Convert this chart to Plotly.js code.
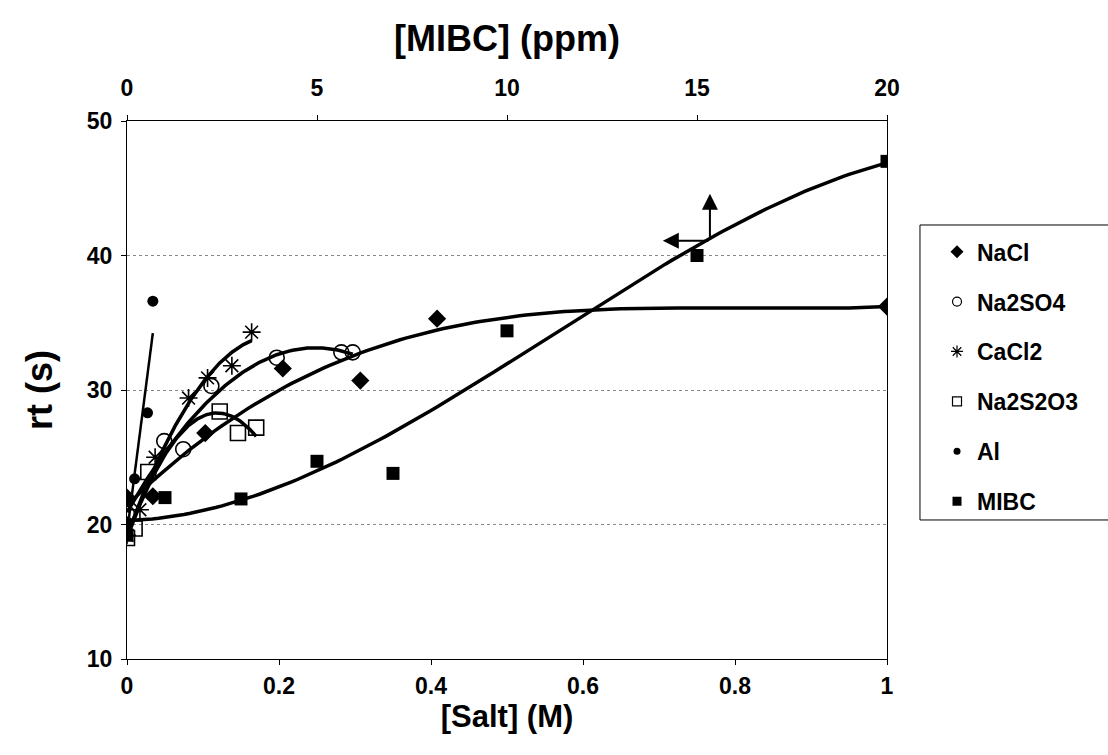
<!DOCTYPE html>
<html>
<head>
<meta charset="utf-8">
<script src="https://cdn.plot.ly/plotly-3.0.1.min.js"></script>
<style>body{margin:0;background:#fff}#chart{width:1108px;height:755px}</style>
</head>
<body>
<div id="chart"></div>
<script>
// ---- data ----
const naclX   = [0, 0.034, 0.103, 0.205, 0.307, 0.408, 1.0];
const naclY   = [22.0, 22.1, 26.8, 31.6, 30.7, 35.3, 36.2];
const na2so4X = [0, 0.049, 0.074, 0.111, 0.197, 0.282, 0.297];
const na2so4Y = [20.8, 26.2, 25.6, 30.3, 32.4, 32.8, 32.8];
const cacl2X  = [0, 0.017, 0.037, 0.081, 0.106, 0.138, 0.164];
const cacl2Y  = [19.2, 21.1, 25.0, 29.4, 30.9, 31.8, 34.3];
const na2s2o3X = [0, 0.010, 0.028, 0.122, 0.146, 0.170];
const na2s2o3Y = [19.0, 19.7, 23.9, 28.4, 26.8, 27.2];
const alX     = [0, 0.010, 0.027, 0.034];
const alY     = [20.2, 23.4, 28.3, 36.6];
const mibcX   = [0, 1, 3, 5, 7, 10, 15, 20];   // ppm (top axis)
const mibcY   = [19.2, 22.0, 21.9, 24.7, 23.8, 34.4, 40.0, 47.0];
const seriesNames = ['NaCl', 'Na2SO4', 'CaCl2', 'Na2S2O3', 'Al', 'MIBC'];
const fitOrders   = [3, 2, 2, 2, 1, 3];
const xTickVals  = [0, 0.2, 0.4, 0.6, 0.8, 1];
const xTickText  = ['0', '0.2', '0.4', '0.6', '0.8', '1'];
const x2TickVals = [0, 5, 10, 15, 20];
const yTickVals  = [10, 20, 30, 40, 50];
// arrow annotation (top-axis ppm, rt): corner, up-tip y, left-tip x
const arrowCorner = [15.34, 41.1];
const arrowUpTipY = 44.6;
const arrowLeftTipX = 14.1;

// ---- least-squares polynomial trendline (as the spreadsheet did) ----
function polyfit(xs, ys, order) {
  const n = order + 1;
  const A = [], b = [];
  for (let i = 0; i < n; i++) {
    A.push(new Array(n).fill(0)); b.push(0);
    for (let j = 0; j < n; j++)
      for (let k = 0; k < xs.length; k++) A[i][j] += Math.pow(xs[k], i + j);
    for (let k = 0; k < xs.length; k++) b[i] += ys[k] * Math.pow(xs[k], i);
  }
  for (let c = 0; c < n; c++) {
    let p = c;
    for (let r = c + 1; r < n; r++) if (Math.abs(A[r][c]) > Math.abs(A[p][c])) p = r;
    [A[c], A[p]] = [A[p], A[c]]; [b[c], b[p]] = [b[p], b[c]];
    for (let r = c + 1; r < n; r++) {
      const f = A[r][c] / A[c][c];
      for (let j = c; j < n; j++) A[r][j] -= f * A[c][j];
      b[r] -= f * b[c];
    }
  }
  const coef = new Array(n).fill(0);
  for (let r = n - 1; r >= 0; r--) {
    let s = b[r];
    for (let j = r + 1; j < n; j++) s -= A[r][j] * coef[j];
    coef[r] = s / A[r][r];
  }
  return coef;
}
function trend(xs, ys, order) {
  const c = polyfit(xs, ys, order);
  const lo = Math.min(...xs), hi = Math.max(...xs);
  const tx = [], ty = [];
  for (let i = 0; i <= 120; i++) {
    const x = lo + (hi - lo) * i / 120;
    let y = 0;
    for (let k = 0; k < c.length; k++) y += c[k] * Math.pow(x, k);
    tx.push(x); ty.push(y);
  }
  return {tx, ty};
}

const FONT = 'Liberation Sans, Arial, sans-serif';
const sets = [
  {x: naclX, y: naclY, sym: 'diamond', size: 14, lw: 0, xa: 'x', ls: 10},
  {x: na2so4X, y: na2so4Y, sym: 'circle-open', size: 15, lw: 1.6, xa: 'x', ls: 9},
  {x: cacl2X, y: cacl2Y, sym: 'asterisk-open', size: 15, lw: 1.6, xa: 'x', ls: 10},
  {x: na2s2o3X, y: na2s2o3Y, sym: 'square-open', size: 15, lw: 1.6, xa: 'x', ls: 9},
  {x: alX, y: alY, sym: 'circle', size: 11, lw: 0, xa: 'x', ls: 7},
  {x: mibcX, y: mibcY, sym: 'square', size: 13, lw: 0, xa: 'x2', ls: 9}
];
const traces = [];
sets.forEach((s, i) => {
  const t = trend(s.x, s.y, fitOrders[i]);
  traces.push({
    x: t.tx, y: t.ty, xaxis: s.xa, yaxis: 'y', mode: 'lines',
    line: {color: '#000', width: i === 4 ? 2.5 : 3.5, shape: 'linear'},
    showlegend: false, hoverinfo: 'skip'
  });
});
sets.forEach((s, i) => {
  traces.push({
    x: s.x, y: s.y, xaxis: s.xa, yaxis: 'y', mode: 'markers', name: seriesNames[i],
    showlegend: false,
    marker: {symbol: s.sym, size: s.size, color: '#000', line: {color: '#000', width: s.lw}}
  });
});
// legend entries (smaller symbols, as in the reference legend)
sets.forEach((s, i) => {
  traces.push({
    x: [null], y: [null], xaxis: 'x', yaxis: 'y', mode: 'markers', name: seriesNames[i],
    legendgroup: 'g' + i, showlegend: true,
    marker: {symbol: s.sym, size: s.ls, color: '#000', line: {color: '#000', width: s.lw ? 1.2 : 0}}
  });
});

const tickFont = {family: FONT, size: 23, weight: 'bold', color: '#000'};
const layout = {
  width: 1108, height: 755,
  margin: {l: 127, r: 221, t: 121, b: 96},
  paper_bgcolor: '#fff', plot_bgcolor: '#fff',
  font: {family: FONT, size: 18, color: '#000', weight: 'bold'},
  showlegend: true,
  legend: {
    x: 1.0658, y: 0.797, xanchor: 'left', yanchor: 'top',
    borderwidth: 0, bgcolor: 'rgba(0,0,0,0)',
    font: {family: FONT, size: 23, color: '#000', weight: 'bold'},
    traceorder: 'grouped', tracegroupgap: 17, itemwidth: 30
  },
  shapes: [
    {type: 'rect', xref: 'paper', yref: 'paper', x0: 1.0434, x1: 1.4, y0: 0.2584, y1: 0.8067,
     line: {color: '#000', width: 1}, fillcolor: 'rgba(0,0,0,0)', layer: 'below'}
  ],
  xaxis: {
    range: [0, 1], tickvals: xTickVals, ticktext: xTickText,
    showline: true, linecolor: '#000', linewidth: 1, mirror: false,
    ticks: 'outside', ticklen: 5, tickcolor: '#000', showgrid: false, zeroline: false,
    tickfont: tickFont, ticklabelstandoff: 1,
    title: {text: '[Salt] (M)', font: {family: FONT, size: 31, weight: 'bold'}, standoff: 3}
  },
  xaxis2: {
    range: [0, 20], overlaying: 'x', side: 'top', anchor: 'y', tickvals: x2TickVals,
    showline: true, linecolor: '#000', linewidth: 1,
    ticks: 'outside', ticklen: 5, tickcolor: '#000', showgrid: false, zeroline: false,
    tickfont: tickFont, ticklabelstandoff: 10,
    title: {text: '[MIBC] (ppm)', font: {family: FONT, size: 36, weight: 'bold'}, standoff: 12}
  },
  yaxis: {
    range: [10, 50], tickvals: yTickVals,
    showline: true, linecolor: '#000', linewidth: 1, mirror: true,
    ticks: 'outside', ticklen: 5, tickcolor: '#000',
    showgrid: true, gridcolor: '#888', griddash: 'dot', gridwidth: 1, zeroline: false,
    tickfont: tickFont, ticklabelstandoff: 4,
    title: {text: 'rt (s)', font: {family: FONT, size: 36, weight: 'bold'}, standoff: 23}
  },
  annotations: [
    {xref: 'x2', yref: 'y', axref: 'x2', ayref: 'y', x: arrowCorner[0], y: arrowUpTipY,
     ax: arrowCorner[0], ay: arrowCorner[1],
     showarrow: true, arrowhead: 2, arrowsize: 1.6, arrowwidth: 2, arrowcolor: '#000', text: ''},
    {xref: 'x2', yref: 'y', axref: 'x2', ayref: 'y', x: arrowLeftTipX, y: arrowCorner[1],
     ax: arrowCorner[0], ay: arrowCorner[1],
     showarrow: true, arrowhead: 2, arrowsize: 1.6, arrowwidth: 2, arrowcolor: '#000', text: ''}
  ]
};
Plotly.newPlot('chart', traces, layout, {displayModeBar: false, staticPlot: true});
</script>
</body>
</html>
